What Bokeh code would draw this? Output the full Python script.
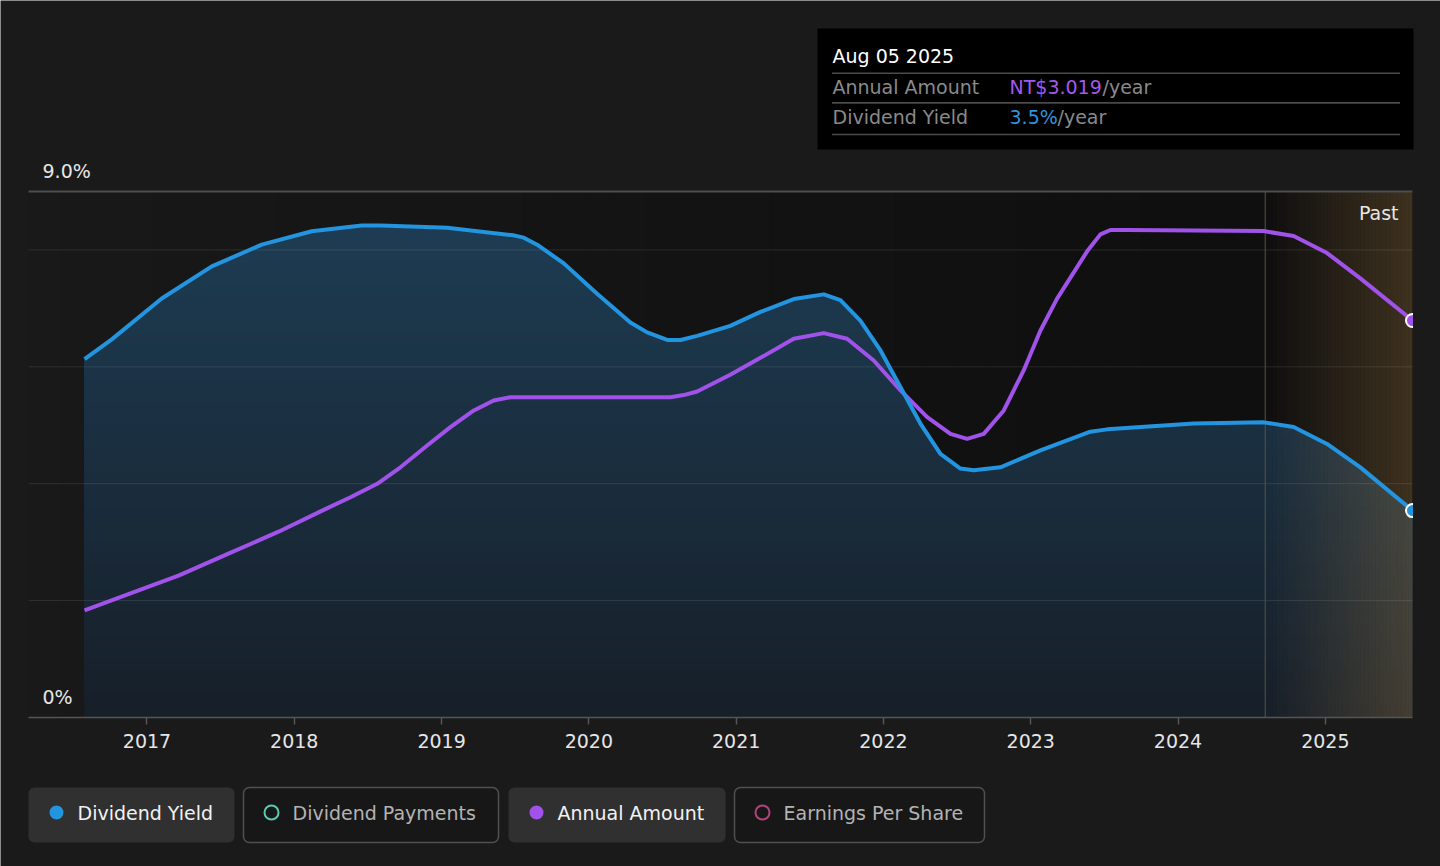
import numpy as np
from bokeh.plotting import figure
from bokeh.models import Range1d, FixedTicker, Label, BoxAnnotation, LinearAxis
from bokeh.embed import file_html
from bokeh.resources import INLINE

FONT = "DejaVu Sans"

# ---------------- data ----------------
yield_x = [2016.576, 2016.761, 2017.100, 2017.440, 2017.779, 2018.119, 2018.458, 2018.586,
           2019.038, 2019.490, 2019.558, 2019.649, 2019.830, 2020.056, 2020.282, 2020.396,
           2020.532, 2020.622, 2020.735, 2020.960, 2021.165, 2021.391, 2021.595, 2021.708,
           2021.843, 2021.980, 2022.116, 2022.251, 2022.387, 2022.523, 2022.613, 2022.794,
           2023.066, 2023.405, 2023.519, 2024.107, 2024.582, 2024.785, 2025.012, 2025.238,
           2025.592]
yield_y = [6.13, 6.47, 7.17, 7.72, 8.09, 8.32, 8.42, 8.42,
           8.38, 8.25, 8.21, 8.09, 7.77, 7.25, 6.76, 6.59,
           6.46, 6.46, 6.53, 6.70, 6.94, 7.16, 7.24, 7.14,
           6.79, 6.28, 5.65, 5.03, 4.51, 4.26, 4.23, 4.28,
           4.57, 4.89, 4.93, 5.03, 5.05, 4.97, 4.68, 4.28,
           3.54]

amount_x = [2016.576, 2016.874, 2017.214, 2017.553, 2017.893, 2018.200, 2018.382, 2018.563,
            2018.721, 2018.902, 2019.060, 2019.219, 2019.354, 2019.468, 2020.554, 2020.644,
            2020.735, 2020.960, 2021.165, 2021.391, 2021.595, 2021.753, 2021.934, 2022.116,
            2022.297, 2022.455, 2022.568, 2022.681, 2022.817, 2022.952, 2023.066, 2023.179,
            2023.383, 2023.473, 2023.541, 2023.654, 2024.582, 2024.785, 2025.012, 2025.238,
            2025.592]
amount_y = [0.815, 0.938, 1.079, 1.246, 1.413, 1.579, 1.675, 1.777,
            1.903, 2.068, 2.208, 2.335, 2.411, 2.436, 2.436, 2.452,
            2.479, 2.607, 2.735, 2.880, 2.923, 2.880, 2.715, 2.487,
            2.284, 2.157, 2.119, 2.157, 2.335, 2.639, 2.943, 3.185,
            3.545, 3.674, 3.707, 3.707, 3.699, 3.661, 3.532, 3.339,
            3.019]

tick_years = [2017, 2018, 2019, 2020, 2021, 2022, 2023, 2024, 2025]
tick_labels = ["2017", "2018", "2019", "2020", "2021", "2022", "2023", "2024", "2025"]
grid_levels = [2, 4, 6, 8]
y_top = 9.0
amount_top = 4.0
x_start = 2016.1955

legend_names = ["Dividend Yield", "Dividend Payments", "Annual Amount", "Earnings Per Share"]
legend_colors = ["#2394df", "#5cc8b0", "#a052ea", "#b0427c"]
legend_active = [True, False, True, False]
tooltip_date = "Aug 05 2025"

# ---------------- layout / style ----------------
W, H = 1440, 866
PL, PR, PT, PB = 28, 1412, 191, 717          # chart area in page pixels
BG = "#1a1a1a"
BLUE = "#2394df"
PURPLE = "#a052ea"
FS = "19px"

x_end = yield_x[-1]
upp_x = (x_end - x_start) / (PR - PL)
upp_y = y_top / (PB - PT)
upp_a = amount_top / (PB - PT)
xr = Range1d(x_start - PL * upp_x, x_end + (W - PR) * upp_x)
yr = Range1d(-(H - PB) * upp_y, y_top + PT * upp_y)

p = figure(width=W, height=H, x_range=xr, y_range=yr,
           toolbar_location=None, output_backend="svg",
           background_fill_color=BG, border_fill_color=BG, outline_line_color=None,
           min_border=0, x_axis_location=None, y_axis_location=None)
p.extra_y_ranges = {"amt": Range1d(-(H - PB) * upp_a, amount_top + PT * upp_a)}
p.grid.visible = False

yx = np.array(yield_x)
yy = np.array(yield_y)
past_start = x_end - 1.0

# chart-area background: darkens towards the right (stacked solid layers)
n_bg = 40
bg_edges = np.linspace(x_start, past_start, n_bg + 1)[:-1]
g = np.linspace(25, 15, n_bg).astype(int)
p.quad(left=bg_edges, right=x_end, bottom=0, top=y_top,
       fill_color=["#%02x%02x%02x" % (v, v, v) for v in g], line_color=None)

# vertical gradient fill under the dividend yield line (top colour first)
levels = np.linspace(0, y_top, 46)[1:][::-1]
c0 = np.array([23, 31, 40])
c1 = np.array([30, 62, 86])
for hi in levels:
    top_y = np.minimum(yy, hi)
    c = (c0 + (c1 - c0) * hi / y_top).astype(int)
    p.varea(x=yx, y1=0, y2=top_y, fill_color="#%02x%02x%02x" % tuple(c), fill_alpha=1.0)

# "Past" shaded region (last year), horizontal gradient
n_strips = 40
edges = np.linspace(past_start, x_end, n_strips + 1)
alphas = 0.26 * (np.arange(n_strips) + 0.5) / n_strips
p.quad(left=edges[:-1], right=edges[1:], bottom=0, top=y_top,
       fill_color="#c8964f", fill_alpha=alphas, line_color=None)

# grid lines, top line, past divider
p.segment(x0=x_start, x1=x_end, y0=grid_levels, y1=grid_levels,
          line_color="#ffffff", line_alpha=0.1, line_width=1)
p.segment(x0=[x_start], x1=[x_end], y0=[y_top], y1=[y_top], line_color="#4d4d4d", line_width=2)
p.segment(x0=[past_start], x1=[past_start], y0=[0], y1=[y_top], line_color="#5a534a", line_width=1)

# lines
p.line(amount_x, amount_y, y_range_name="amt", line_color=PURPLE, line_width=4, line_join="round")
p.line(yield_x, yield_y, line_color=BLUE, line_width=4, line_join="round")
p.scatter([amount_x[-1]], [amount_y[-1]], y_range_name="amt", size=13,
          fill_color=PURPLE, line_color="#ffffff", line_width=2)
p.scatter([yield_x[-1]], [yield_y[-1]], size=13,
          fill_color=BLUE, line_color="#ffffff", line_width=2)
# right edge of the chart area clips the end markers
p.quad(left=[x_end + 0.5 * upp_x], right=[xr.end], bottom=[0], top=[y_top],
       fill_color=BG, line_color=None)

# x axis at y = 0
ax = LinearAxis(fixed_location=0, ticker=FixedTicker(ticks=tick_years), bounds=(x_start, x_end))
ax.major_label_overrides = {y: l for y, l in zip(tick_years, tick_labels)}
ax.axis_line_color = "#555555"
ax.axis_line_width = 1.5
ax.major_tick_line_color = "#555555"
ax.major_tick_line_width = 1.5
ax.major_tick_in = 0
ax.major_tick_out = 7
ax.minor_tick_line_color = None
ax.major_label_text_color = "#e6e6e6"
ax.major_label_text_font = FONT
ax.major_label_text_font_size = FS
ax.major_label_standoff = 9
p.add_layout(ax, "below")


def lab(x, y, text, color, align="left"):
    p.add_layout(Label(x=x, y=y, x_units="canvas", y_units="canvas", text=text,
                       text_font=FONT, text_font_size=FS, text_color=color,
                       text_align=align, text_baseline="middle", level="annotation"))


def box(l, r, t, b, fill, line=None, lw=1.5, radius=0):
    p.add_layout(BoxAnnotation(left=l, right=r, top=t, bottom=b,
                               left_units="canvas", right_units="canvas",
                               top_units="canvas", bottom_units="canvas",
                               fill_color=fill, fill_alpha=1.0 if fill else 0.0,
                               line_color=line, line_alpha=1.0, line_width=lw,
                               border_radius=int(radius), level="annotation"))


lab(1398, 212, "Past", "#e6e6e6", "right")
lab(42, 696, "0%", "#e6e6e6")
lab(42, 170, "%.1f%%" % y_top, "#e6e6e6")

# tooltip
box(817, 1413, 28, 149, "#000000")
for ly in [72.8, 102.4, 134.0]:
    box(831.5, 1399.5, ly - 0.8, ly + 0.8, "#4a4a4a")
lab(832, 55, tooltip_date, "#ffffff")
lab(832, 86, "Annual Amount", "#8a8a8a")
lab(832, 116, "Dividend Yield", "#8a8a8a")
lab(1009, 86, "NT$%.3f" % amount_y[-1], "#a458ef")
lab(1009, 116, "%.1f%%" % yield_y[-1], "#2f93dc")
lab(1102, 86, "/year", "#8a8a8a")
lab(1057, 116, "/year", "#8a8a8a")

# legend pills
pill_left = [28, 243, 508, 734]
pill_right = [234, 498, 725, 984]
for i, name in enumerate(legend_names):
    act = legend_active[i]
    l, r = pill_left[i], pill_right[i]
    if act:
        box(l, r, 787, 842, "#303030", radius=6)
        box(l + 21, l + 35, 805, 819, legend_colors[i], radius=7)
    else:
        box(l, r, 787, 842, "#171717", line="#505050", lw=1.5, radius=6)
        box(l + 21, l + 35, 805, 819, None, line=legend_colors[i], lw=2, radius=7)
    lab(l + 49, 812, name, "#f2f2f2" if act else "#b3b3b3")

with open("out.html", "w") as f:
    f.write(file_html(p, INLINE))
